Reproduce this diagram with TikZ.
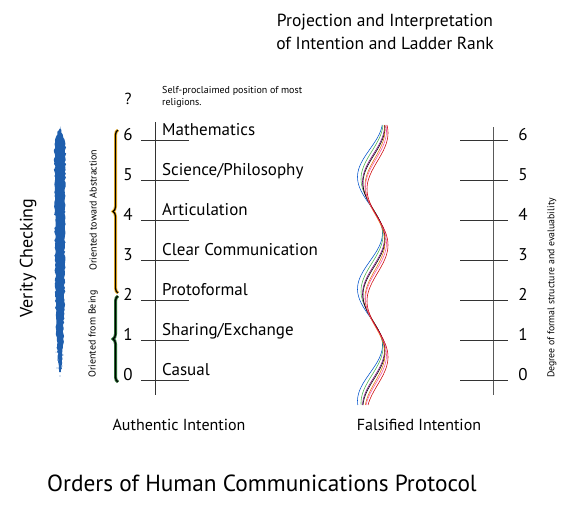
\documentclass[tikz,border=0pt]{standalone}
\usepackage{tikz}
\usetikzlibrary{positioning,decorations.pathreplacing,decorations.pathmorphing}
\usepackage{fontspec}
\setmainfont{PT Sans}

\definecolor{verityblue}{HTML}{1F5FAE}
\definecolor{absglow}{HTML}{F4B526}
\definecolor{beingglow}{HTML}{2F7A3A}

\begin{document}
\begin{tikzpicture}[x=1pt,y=-1pt,
	rung/.style={draw=black!80, line width=.9pt},
	rail/.style={draw=black!80, line width=1pt},
	rank/.style={anchor=base, inner sep=0pt, font=\fontsize{17}{19}\selectfont},
	order/.style={anchor=base west, inner sep=0pt, font=\fontsize{17}{19}\selectfont},
	sidenote/.style={rotate=90, inner sep=0pt, font=\fontsize{10}{12}\selectfont},
	wave/.style={line width=.55pt, variable=\t, domain=125:405, samples=120, smooth}]
	\useasboundingbox (0,0) rectangle (576,504);
	% titles
	\node[align=center, font=\fontsize{17.5}{23}\selectfont] (proj) at (385,32)
		{Projection and Interpretation\\of Intention and Ladder Rank};
	\node[font=\fontsize{16}{18}\selectfont] (auth) at (179,425) {Authentic Intention};
	\node[font=\fontsize{16}{18}\selectfont] (fals) at (419,425) {Falsified Intention};
	\node[font=\fontsize{23.3}{26}\selectfont] (orders) at (262,483) {Orders of Human Communications Protocol};
	% verity arrow
	\fill[verityblue, decorate, decoration={random steps, segment length=2pt, amplitude=.8pt}]
		(60,126) -- (65.5,144) -- (65,230) -- (64.5,300) -- (63,345) -- (61,372)
		-- (59,372) -- (57,345) -- (55.5,300) -- (55,230) -- (54.5,144) -- cycle;
	\fill[verityblue!70] (58,360) circle (.8) (62,366) circle (.7) (57,368) circle (.6)
		(63,355) circle (.6) (60,376) circle (.6) (56,352) circle (.5);
	\node[rotate=90, font=\fontsize{18}{20}\selectfont] (verity) at (28,258) {Verity Checking};
	% braces
	\draw[absglow, line width=3pt, decorate, decoration={brace, amplitude=5pt}] (118,293) -- (118,130);
	\draw[black, line width=1.3pt, decorate, decoration={brace, amplitude=5pt}] (118,293) -- (118,130);
	\draw[beingglow, line width=3pt, decorate, decoration={brace, amplitude=5pt}] (118,382) -- (118,296);
	\draw[black, line width=1.3pt, decorate, decoration={brace, amplitude=5pt}] (118,382) -- (118,296);
	\node[sidenote] (abstr) at (93,210) {Oriented toward Abstraction};
	\node[sidenote] (being) at (93,334) {Oriented from Being};
	% authentic ladder
	\draw[rail] (155,122) -- (155,395);
	\node[font=\fontsize{16}{18}\selectfont] (query) at (128,99) {?};
	\node[anchor=north west, align=left, inner sep=0pt, font=\fontsize{10}{12}\selectfont] (relig) at (162,86)
		{Self-proclaimed position of most\\religions.};
	\draw[rung] (141,140) -- (189,140); \node[rank] (L6) at (128,140) {6}; \node[order] (o6) at (162,135) {Mathematics};
	\draw[rung] (141,180) -- (189,180); \node[rank] (L5) at (128,180) {5}; \node[order] (o5) at (162,175) {Science/Philosophy};
	\draw[rung] (141,220) -- (189,220); \node[rank] (L4) at (128,220) {4}; \node[order] (o4) at (162,215) {Articulation};
	\draw[rung] (141,260) -- (189,260); \node[rank] (L3) at (128,260) {3}; \node[order] (o3) at (162,255) {Clear Communication};
	\draw[rung] (141,300) -- (189,300); \node[rank] (L2) at (128,300) {2}; \node[order] (o2) at (162,295) {Protoformal};
	\draw[rung] (141,340) -- (189,340); \node[rank] (L1) at (128,340) {1}; \node[order] (o1) at (162,335) {Sharing/Exchange};
	\draw[rung] (141,380) -- (189,380); \node[rank] (L0) at (128,380) {0}; \node[order] (o0) at (162,375) {Casual};
	% tangled projections
	\draw[wave, color=blue!60!cyan!80!black] plot ({370+12.5*cos(3.2143*(\t-121))}, \t);
	\draw[wave, color=green!55!black!70] plot ({372+11*cos(3.2143*(\t-123))}, \t);
	\draw[wave, color=violet] plot ({373.5+11*cos(3.2143*(\t-126))}, \t);
	\draw[wave, color=black] plot ({374+11*cos(3.2143*(\t-127))}, \t);
	\draw[wave, color=orange!90!black] plot ({375+10*cos(3.2143*(\t-130))}, \t);
	\draw[wave, color=magenta!70] plot ({376+10.5*cos(3.2143*(\t-131))}, \t);
	\draw[wave, color=red!80!black] plot ({377.5+10.5*cos(3.2143*(\t-133))}, \t);
	% falsified ladder
	\draw[rail, draw=black!65] (493,127) -- (493,395);
	\draw[rung] (460,140) -- (508,140); \node[rank] (R6) at (523,140) {6};
	\draw[rung] (460,180) -- (508,180); \node[rank] (R5) at (523,180) {5};
	\draw[rung] (460,220) -- (508,220); \node[rank] (R4) at (523,220) {4};
	\draw[rung] (460,260) -- (508,260); \node[rank] (R3) at (523,260) {3};
	\draw[rung] (460,300) -- (508,300); \node[rank] (R2) at (523,300) {2};
	\draw[rung] (460,340) -- (508,340); \node[rank] (R1) at (523,340) {1};
	\draw[rung] (460,380) -- (508,380); \node[rank] (R0) at (523,380) {0};
	\node[sidenote, font=\fontsize{9.8}{12}\selectfont] (degree) at (552,288) {Degree of formal structure and evaluability};
\end{tikzpicture}
\end{document}
